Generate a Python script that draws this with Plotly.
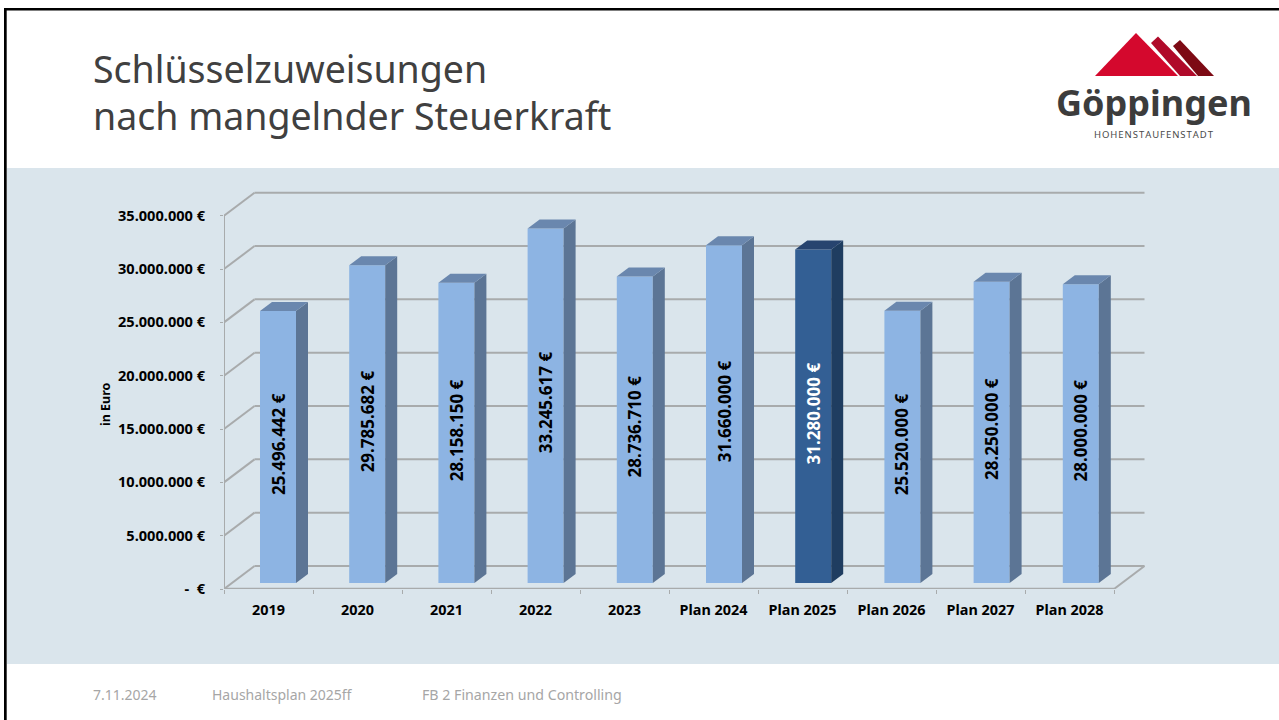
import plotly.graph_objects as go

categories = ["2019", "2020", "2021", "2022", "2023", "Plan 2024", "Plan 2025", "Plan 2026", "Plan 2027", "Plan 2028"]
values = [25496442, 29785682, 28158150, 33245617, 28736710, 31660000, 31280000, 25520000, 28250000, 28000000]
highlight = "Plan 2025"
y_ticks = [0, 5000000, 10000000, 15000000, 20000000, 25000000, 30000000, 35000000]

W, H = 1279, 720
PX_X = 89.0            # pixels per category
PX_Y = 373.3 / 35e6    # pixels per euro
X0, Y0 = 224, 589
RIGHT, TOP = 1147, 188
FONT = "Noto Sans"
GRID = "#a8abac"

def px(x): return x / W
def py(y): return 1 - y / H
def fmt(v): return f"{v:,.0f}".replace(",", ".") + " €"

x_max = -0.5 + (RIGHT - X0) / PX_X
y_max = (Y0 - TOP) / PX_Y
wall_dx = 30.5 / PX_X
wall_dy = 23 / PX_Y
bar_w = 36 / PX_X
bar_shift = 9.5 / PX_X
bar_pitch = 89.2 / PX_X
bar_base = 6 / PX_Y
depth_x = 12 / PX_X
depth_y = 9 / PX_Y

LIGHT = dict(front="#8db4e3", side="#5c7595", top="#6a87ae")
DARK = dict(front="#335f94", side="#1f3d60", top="#27446f")
colours = [DARK if c == highlight else LIGHT for c in categories]
xs = list(range(len(categories)))
bar_x = [i * bar_pitch + bar_shift for i in xs]

fig = go.Figure()
fig.add_bar(
    x=bar_x, y=values, base=bar_base, width=bar_w,
    marker=dict(color=[c["front"] for c in colours], line=dict(width=0)),
    hoverinfo="skip", showlegend=False,
)
for cx, v, c in zip(bar_x, values, colours):
    l = cx - bar_w / 2
    r = cx + bar_w / 2
    b = bar_base
    t = bar_base + v
    fig.add_scatter(x=[r, r + depth_x, r + depth_x, r, r], y=[b, b + depth_y, t + depth_y, t, b],
                    fill="toself", fillcolor=c["side"], mode="lines", line=dict(width=0),
                    hoverinfo="skip", showlegend=False)
    fig.add_scatter(x=[l, l + depth_x, r + depth_x, r, l], y=[t, t + depth_y, t + depth_y, t, t],
                    fill="toself", fillcolor=c["top"], mode="lines", line=dict(width=0),
                    hoverinfo="skip", showlegend=False)

shapes = []
def seg(x0, y0, x1, y1, width=2):
    shapes.append(dict(type="line", xref="x", yref="y", x0=x0, y0=y0, x1=x1, y1=y1, layer="below",
                       line=dict(color=GRID, width=width)))
for t in y_ticks:
    seg(-0.5, t, -0.5 + wall_dx, t + wall_dy)
    seg(-0.5 + wall_dx, t + wall_dy, 9.5 + wall_dx, t + wall_dy)
seg(-0.5, 0, -0.5, y_ticks[-1])
seg(-0.5, 0, 9.5, 0, 2.5)
seg(9.5, 0, 9.5 + wall_dx, wall_dy)

def rect(x0, y0, x1, y1, color, layer="below"):
    shapes.append(dict(type="rect", xref="paper", yref="paper", x0=px(x0), x1=px(x1), y0=py(y0), y1=py(y1),
                       fillcolor=color, line=dict(width=0), layer=layer))
def poly(points, color):
    path = "M " + " L ".join(f"{px(a):.5f} {py(b):.5f}" for a, b in points) + " Z"
    shapes.append(dict(type="path", xref="paper", yref="paper", path=path, fillcolor=color,
                       line=dict(width=0), layer="below"))

rect(0, 0, W, H, "#ffffff")
rect(7, 168, W, 664, "#dae5ec")
rect(4, 8, W, 10.5, "#000000")
rect(4, 8, 6.7, H, "#000000")
poly([(1136, 33), (1095, 76), (1178, 76)], "#d4082d")
poly([(1158, 36.5), (1151, 43), (1180, 76), (1197, 76)], "#b00a2a")
poly([(1180, 40), (1173, 46), (1198, 76), (1214, 76)], "#7d0a14")

ann = []
def text(x, y, s, size, color="#000000", anchor="left", bold=False, angle=0, font=FONT):
    ann.append(dict(xref="paper", yref="paper", x=px(x), y=py(y), text=f"<b>{s}</b>" if bold else s,
                    showarrow=False, xanchor=anchor, yanchor="middle", textangle=angle,
                    font=dict(family=font, size=size, color=color), borderpad=0))

text(92, 68, "Schlüsselzuweisungen", 37.5, "#404040")
text(92, 116, "nach mangelnder Steuerkraft", 37.5, "#404040")
text(1154, 103, "Göppingen", 36, "#3c3c3c", anchor="center", bold=True)
text(1154, 134, "\u200a".join("HOHENSTAUFENSTADT"), 9.5, "#4a4a4a", anchor="center")
text(92, 694, "7.11.2024", 14, "#a6a6a6")
text(211, 694, "Haushaltsplan 2025ff", 14, "#a6a6a6")
text(421, 694, "FB 2 Finanzen und Controlling", 14.2, "#a6a6a6")
text(105, 404, "in Euro", 12.5, "#000000", anchor="center", bold=True, angle=-90)

for cx, v, c in zip(bar_x, values, colours):
    ann.append(dict(xref="x", yref="y", x=cx, y=bar_base + v / 2 + 3 / PX_Y,
                    text=f"<b>{fmt(v)}</b>", showarrow=False, textangle=-90,
                    xanchor="center", yanchor="middle", borderpad=0,
                    font=dict(family=FONT, size=17, color="#ffffff" if c is DARK else "#000000")))

fig.update_layout(
    width=W, height=H, autosize=False, margin=dict(l=0, r=0, t=0, b=0, pad=0, autoexpand=False),
    paper_bgcolor="#ffffff", plot_bgcolor="rgba(0,0,0,0)", showlegend=False,
    shapes=shapes, annotations=ann, font=dict(family=FONT, color="#000000"),
    xaxis=dict(domain=[px(X0), px(RIGHT)], range=[-0.5, x_max], showgrid=False, zeroline=False, showline=False,
               automargin=False,
               tickmode="array", tickvals=xs, ticktext=[f"<b>{c}</b>" for c in categories],
               ticks="", ticklabelstandoff=11, tickfont=dict(family=FONT, size=14.4, color="#000000"),
               minor=dict(tickmode="array", tickvals=[i - 0.5 for i in range(len(categories) + 1)],
                          ticks="outside", ticklen=4, tickcolor=GRID, tickwidth=1, showgrid=False)),
    yaxis=dict(domain=[py(Y0), py(TOP)], range=[0, y_max], showgrid=False, zeroline=False, showline=False,
               automargin=False,
               tickmode="array", tickvals=y_ticks,
               ticktext=["<b>-  €</b>"] + [f"<b>{fmt(t)}</b>" for t in y_ticks[1:]],
               ticks="outside", ticklen=3, tickcolor=GRID, tickwidth=1, ticklabelstandoff=12,
               tickfont=dict(family=FONT, size=14.6, color="#000000")),
)
fig.write_html("out.html", config=dict(displayModeBar=False),
               post_script="document.body.style.margin='0';document.body.style.overflow='hidden';")
